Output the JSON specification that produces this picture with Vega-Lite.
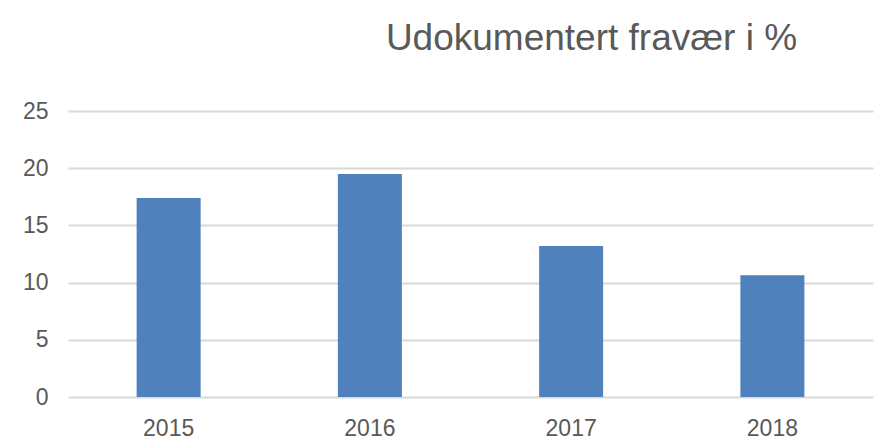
{
  "$schema": "https://vega.github.io/schema/vega-lite/v6.json",
  "autosize": "none",
  "width": 805,
  "height": 286,
  "padding": {"left": 68, "top": 111, "right": 17, "bottom": 49},
  "background": "white",
  "title": {
    "text": "Udokumentert fravær i %",
    "font": "Liberation Sans",
    "fontSize": 37,
    "fontWeight": "normal",
    "color": "#595959",
    "anchor": "middle",
    "frame": "group",
    "baseline": "alphabetic",
    "offset": 13,
    "dx": 121
  },
  "data": {
    "values": [
      {"year": "2015", "value": 17.4},
      {"year": "2016", "value": 19.5},
      {"year": "2017", "value": 13.2},
      {"year": "2018", "value": 10.65}
    ]
  },
  "mark": {"type": "bar", "color": "#4f81bd", "size": 64},
  "encoding": {
    "x": {
      "field": "year",
      "type": "nominal",
      "scale": {"paddingInner": 0, "paddingOuter": 0},
      "axis": {
        "title": null,
        "labelAngle": 0,
        "domain": false,
        "ticks": false,
        "labelFont": "Liberation Sans",
        "labelFontSize": 23,
        "labelColor": "#595959",
        "labelPadding": 20
      }
    },
    "y": {
      "field": "value",
      "type": "quantitative",
      "scale": {"domain": [0, 25], "nice": false},
      "axis": {
        "title": null,
        "values": [0, 5, 10, 15, 20, 25],
        "domain": false,
        "ticks": false,
        "grid": true,
        "gridColor": "#d9d9d9",
        "gridWidth": 2,
        "labelFont": "Liberation Sans",
        "labelFontSize": 23,
        "labelColor": "#595959",
        "labelPadding": 20
      }
    }
  },
  "config": {"view": {"stroke": null}}
}
